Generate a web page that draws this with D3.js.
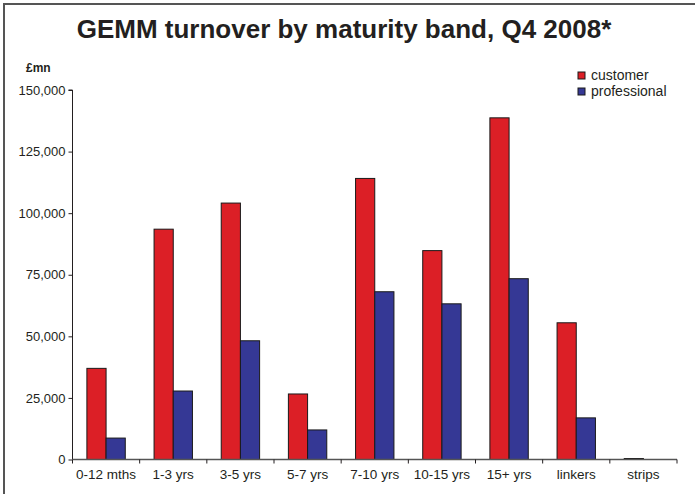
<!DOCTYPE html>
<html>
<head>
<meta charset="utf-8">
<script src="https://cdn.jsdelivr.net/npm/d3@7"></script>
<style>
html,body{margin:0;padding:0;background:#fff;}
svg{display:block;font-family:"Liberation Sans",Arial,Helvetica,sans-serif;}
</style>
</head>
<body>
<svg id="chart" width="695" height="494"></svg>
<script>
const categories = ["0-12 mths","1-3 yrs","3-5 yrs","5-7 yrs","7-10 yrs","10-15 yrs","15+ yrs","linkers","strips"];
const customer = [37000, 93500, 104100, 26600, 114100, 84800, 138700, 55500, 400];
const professional = [8700, 27800, 48200, 12000, 68100, 63200, 73400, 16900, 0];
const seriesNames = ["customer","professional"];
const seriesColors = ["#dc1f26","#353895"];
const yTicks = [0,25000,50000,75000,100000,125000,150000];

const svg = d3.select("#chart");
const W = 695, H = 494;
const m = {left:72.5, right:18, top:90, bottom:34.5};
const x0 = d3.scaleBand().domain(categories).range([m.left, W - m.right]).paddingInner(0).paddingOuter(0);
const x1 = d3.scaleBand().domain(seriesNames).range([0, x0.bandwidth()]).paddingInner(0).paddingOuter(0.75);
const y = d3.scaleLinear().domain([0,150000]).range([H - m.bottom, m.top]);

// frame (top + left)
svg.append("path").attr("d", `M4,494 V4 H695`).attr("fill","none").attr("stroke","#555").attr("stroke-width",2);

// title
svg.append("text").attr("x", 344).attr("y", 38).attr("text-anchor","middle")
  .attr("font-size", 26).attr("font-weight","bold").attr("fill","#231f20")
  .text("GEMM turnover by maturity band, Q4 2008*");

svg.append("text").attr("x", 26).attr("y", 72).attr("font-size", 12).attr("font-weight","bold").attr("fill","#231f20").text("£mn");

// bars
const data = categories.map((c,i)=>({c, vals:[customer[i], professional[i]]}));
const g = svg.append("g");
data.forEach(d=>{
  d.vals.forEach((v,j)=>{
    if (v <= 0) return;
    g.append("rect")
      .attr("x", x0(d.c) + x1(seriesNames[j]))
      .attr("y", y(v))
      .attr("width", x1.bandwidth())
      .attr("height", y(0) - y(v))
      .attr("fill", seriesColors[j])
      .attr("stroke", "#1a1a1a").attr("stroke-width", 1);
  });
});

// y axis
const yAxis = d3.axisLeft(y).tickValues(yTicks).tickSize(4).tickPadding(3).tickFormat(d3.format(","));
const ya = svg.append("g").attr("transform", `translate(${m.left},0)`).call(yAxis);
ya.select(".domain").attr("stroke","#231f20").attr("d", `M-4,${y(150000)}H0V${y(0)}`);
ya.selectAll(".tick line").attr("stroke","#231f20");
ya.selectAll("text").attr("font-size", 13).attr("fill","#231f20").attr("font-family","Liberation Sans, Arial, sans-serif");

// x axis
const xa = svg.append("g").attr("transform", `translate(0,${y(0)})`);
xa.append("line").attr("x1", m.left).attr("x2", W - m.right).attr("y1",0).attr("y2",0).attr("stroke","#555").attr("stroke-width",1.5);
const edges = categories.map(c=>x0(c)).concat([W - m.right]);
edges.forEach(e=>{
  xa.append("line").attr("x1", e).attr("x2", e).attr("y1",0).attr("y2",4).attr("stroke","#231f20");
});
categories.forEach(c=>{
  xa.append("text").attr("x", x0(c) + x0.bandwidth()/2).attr("y", 19).attr("text-anchor","middle")
    .attr("font-size", 13.5).attr("fill","#231f20").text(c);
});

// legend
const lg = svg.append("g").attr("transform","translate(578,72)");
seriesNames.forEach((s,i)=>{
  lg.append("rect").attr("x",0).attr("y", i*16).attr("width",7).attr("height",7)
    .attr("fill", seriesColors[i]).attr("stroke","#1a1a1a").attr("stroke-width",1);
  lg.append("text").attr("x", 13).attr("y", i*16 + 8).attr("font-size", 14).attr("fill","#231f20").text(s);
});
</script>
</body>
</html>
